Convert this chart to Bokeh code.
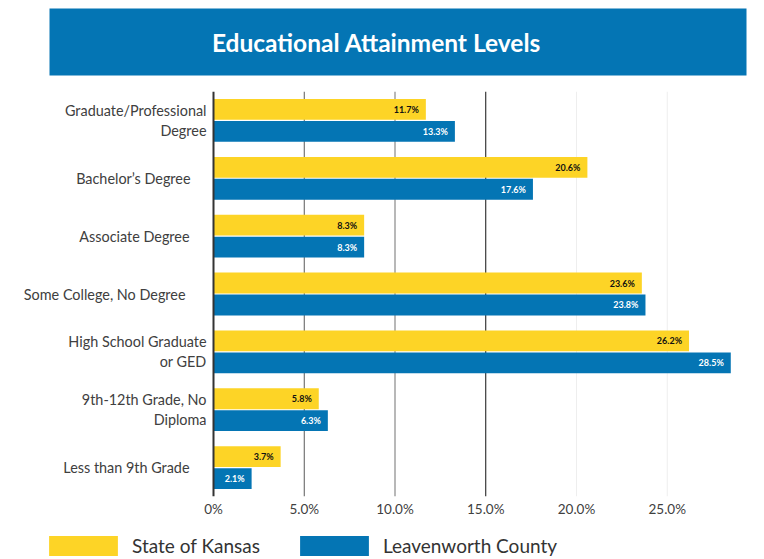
from bokeh.plotting import figure
from bokeh.models import (Range1d, FactorRange, ColumnDataSource, Span, Legend,
                          LegendItem, FixedTicker)
from bokeh.transform import dodge
from bokeh.layouts import column
from bokeh.embed import file_html
from bokeh.resources import INLINE
from bokeh.core.properties import value

# ---------------- data ----------------
title_text = "Educational Attainment Levels"
categories = [
    "Graduate/Professional\nDegree",
    "Bachelor’s Degree",
    "Associate Degree",
    "Some College, No Degree",
    "High School Graduate\nor GED",
    "9th-12th Grade, No\nDiploma",
    "Less than 9th Grade",
]
kansas = [11.7, 20.6, 8.3, 23.6, 26.2, 5.8, 3.7]
leavenworth = [13.3, 17.6, 8.3, 23.8, 28.5, 6.3, 2.1]
series_names = ["State of Kansas", "Leavenworth County"]
x_ticks = [0, 5, 10, 15, 20, 25]
tick_labels = ["0%", "5.0%", "10.0%", "15.0%", "20.0%", "25.0%"]

# ---------------- styles ----------------
FONT = "Lato"
YELLOW = "#FDD426"
BLUE = "#0475B4"
TEXT = "#404040"
W = 764
grid_colors = ["#5a5a5a", "#b8b8b8", "#111111", "#eeeeee", "#eeeeee"]
grid_widths = [1, 2, 1, 1, 1]
label_shift = [0, 16, 17, 21, 0, 0, 17]   # px, extra left shift of category labels


def bare(fig):
    fig.grid.visible = False
    fig.outline_line_color = None
    return fig


COMMON = dict(output_backend="svg", toolbar_location=None,
              min_border_left=0, min_border_right=0)

# ---------------- banner (page-pixel coordinates) ----------------
BH = 91
banner = bare(figure(width=W, height=BH, x_range=Range1d(0, W), y_range=Range1d(BH, 0),
                     x_axis_location=None, y_axis_location=None,
                     min_border_top=0, min_border_bottom=0, **COMMON))
banner.quad(left=[49], right=[746], top=[8], bottom=[75], fill_color=BLUE,
            line_color=None)
banner.text(x=[376], y=[41.5], text=[title_text], text_align="center",
            text_baseline="middle", text_color="white", text_font=value(FONT),
            text_font_style="bold", text_font_size="24.5px")

# ---------------- main chart ----------------
px_per_unit = 18.15
x_start = -213 / px_per_unit
x_end = (W - 213) / px_per_unit

src = ColumnDataSource(dict(
    cat=categories,
    kansas=kansas,
    leav=leavenworth,
    kansas_lbl=[f"{v:.1f}%" for v in kansas],
    leav_lbl=[f"{v:.1f}%" for v in leavenworth],
    lbl_off=[-7 - s for s in label_shift],
))

p = bare(figure(width=W, height=428,
                x_range=Range1d(x_start, x_end),
                y_range=FactorRange(factors=list(reversed(categories)), range_padding=0),
                y_axis_location=None,
                min_border_top=0, min_border_bottom=22, **COMMON))

for xv, c, w in zip(x_ticks[1:], grid_colors, grid_widths):
    p.add_layout(Span(location=xv, dimension="height", line_color=c,
                      line_width=w, level="underlay"))

bar_h = 0.36
off = 0.19
r1 = p.hbar(y=dodge("cat", off, range=p.y_range), right="kansas", left=0,
            height=bar_h, source=src, fill_color=YELLOW, line_color=None)
r2 = p.hbar(y=dodge("cat", -off, range=p.y_range), right="leav", left=0,
            height=bar_h, source=src, fill_color=BLUE, line_color=None)

p.add_layout(Span(location=0, dimension="height", line_color="#333333",
                  line_width=2))

p.text(x="kansas", y=dodge("cat", off, range=p.y_range), text="kansas_lbl",
       source=src, x_offset=-7, text_align="right", text_baseline="middle",
       text_font=value(FONT), text_font_style="bold", text_font_size="9px",
       text_color="#111111")
p.text(x="leav", y=dodge("cat", -off, range=p.y_range), text="leav_lbl",
       source=src, x_offset=-7, text_align="right", text_baseline="middle",
       text_font=value(FONT), text_font_style="bold", text_font_size="9px",
       text_color="white")

# category labels
p.text(x=0, y="cat", text="cat", source=src, x_offset="lbl_off",
       text_align="right", text_baseline="middle",
       text_font=value(FONT), text_font_size="14.4px", text_color=TEXT,
       text_line_height=1.18)

xa = p.xaxis[0]
xa.ticker = FixedTicker(ticks=x_ticks)
xa.major_label_overrides = {t: l for t, l in zip(x_ticks, tick_labels)}
xa.axis_line_color = None
xa.major_tick_line_color = None
xa.minor_tick_line_color = None
xa.major_tick_out = 0
xa.major_tick_in = 0
xa.major_label_standoff = 4
xa.major_label_text_font = FONT
xa.major_label_text_font_size = "13.5px"
xa.major_label_text_color = TEXT

# ---------------- legend strip ----------------
leg = bare(figure(width=W, height=40, x_range=Range1d(0, 1), y_range=Range1d(0, 1),
                  x_axis_location=None, y_axis_location=None,
                  min_border_top=0, min_border_bottom=0, **COMMON))
# legend proxies: zero-area bars lying outside this strip's range (not visible)
lr1 = leg.hbar(y="kansas", left="kansas", right="kansas", height=0, source=src,
               fill_color=YELLOW, line_color=None)
lr2 = leg.hbar(y="leav", left="leav", right="leav", height=0, source=src,
               fill_color=BLUE, line_color=None)
legend = Legend(items=[LegendItem(label=series_names[0], renderers=[lr1], index=0),
                       LegendItem(label=series_names[1], renderers=[lr2], index=0)],
                orientation="horizontal", location=(40, 1),
                glyph_width=86, glyph_height=25, label_standoff=6, spacing=31,
                padding=0, margin=0, border_line_color=None,
                background_fill_alpha=0,
                label_text_font=FONT, label_text_font_size="19px",
                label_text_color="#333333")
leg.add_layout(legend)

layout = column(banner, p, leg, spacing=0)
open("out.html", "w").write(file_html(layout, INLINE))
